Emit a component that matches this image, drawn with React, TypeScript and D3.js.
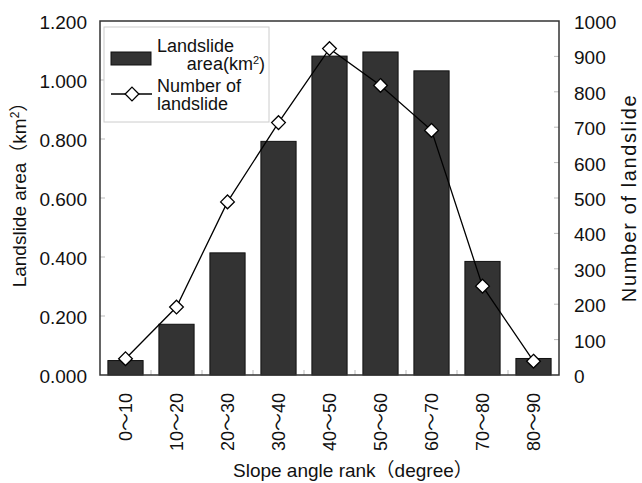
import { useEffect, useRef } from "react";
import * as d3 from "d3";

const categories = ["0～10", "10～20", "20～30", "30～40", "40～50", "50～60", "60～70", "70～80", "80～90"];
const areaValues = [0.049, 0.172, 0.414, 0.792, 1.081, 1.095, 1.031, 0.385, 0.056];
const countValues = [46, 192, 489, 713, 922, 818, 691, 251, 39];
const leftTicks = [0, 0.2, 0.4, 0.6, 0.8, 1.0, 1.2];
const rightTicks = [0, 100, 200, 300, 400, 500, 600, 700, 800, 900, 1000];

const WIDTH = 642;
const HEIGHT = 483;
const MARGIN = { top: 21, right: 83, bottom: 108, left: 100 };
const FONT = "'Liberation Sans', Arial, 'Noto Sans CJK JP', sans-serif";
const CJK = "'Noto Sans CJK JP', sans-serif";

export default function App() {
  const ref = useRef<SVGSVGElement>(null);

  useEffect(() => {
    const svg = d3.select(ref.current);
    svg.selectAll("*").remove();

    const boundsWidth = WIDTH - MARGIN.left - MARGIN.right;
    const boundsHeight = HEIGHT - MARGIN.top - MARGIN.bottom;

    const x = d3.scaleBand().domain(categories).range([0, boundsWidth]).paddingInner(0.31).paddingOuter(0.155);
    const yLeft = d3.scaleLinear().domain([0, 1.2]).range([boundsHeight, 0]);
    const yRight = d3.scaleLinear().domain([0, 1000]).range([boundsHeight, 0]);
    const step = boundsWidth / categories.length;

    svg.append("rect").attr("width", WIDTH).attr("height", HEIGHT).attr("fill", "#fff");

    const g = svg.append("g").attr("transform", `translate(${MARGIN.left},${MARGIN.top})`);

    // inner tick marks
    g.selectAll(".lt")
      .data(leftTicks.slice(1, -1))
      .join("line")
      .attr("x1", 0)
      .attr("x2", 5)
      .attr("y1", (d) => yLeft(d))
      .attr("y2", (d) => yLeft(d))
      .attr("stroke", "#bbb");
    g.selectAll(".rt")
      .data(rightTicks.slice(1, -1))
      .join("line")
      .attr("x1", boundsWidth - 5)
      .attr("x2", boundsWidth)
      .attr("y1", (d) => yRight(d))
      .attr("y2", (d) => yRight(d))
      .attr("stroke", "#bbb");
    g.selectAll(".xt")
      .data(d3.range(1, categories.length))
      .join("line")
      .attr("x1", (d) => d * step)
      .attr("x2", (d) => d * step)
      .attr("y1", boundsHeight)
      .attr("y2", boundsHeight - 5)
      .attr("stroke", "#bbb");

    // bars
    g.selectAll(".bar")
      .data(areaValues)
      .join("rect")
      .attr("x", (_, i) => x(categories[i])!)
      .attr("width", x.bandwidth())
      .attr("y", (d) => yLeft(d))
      .attr("height", (d) => boundsHeight - yLeft(d))
      .attr("fill", "#333")
      .attr("stroke", "#111")
      .attr("stroke-width", 1);

    // frame
    g.append("rect")
      .attr("width", boundsWidth)
      .attr("height", boundsHeight)
      .attr("fill", "none")
      .attr("stroke", "#333")
      .attr("stroke-width", 1.5);

    // line series
    const cx = (i: number) => x(categories[i])! + x.bandwidth() / 2;
    const line = d3
      .line<number>()
      .x((_, i) => cx(i))
      .y((d) => yRight(d));
    g.append("path")
      .datum(countValues)
      .attr("d", line)
      .attr("fill", "none")
      .attr("stroke", "#000")
      .attr("stroke-width", 1.3);

    const diamond = d3.symbol().type(d3.symbolDiamond2).size(120);
    g.selectAll(".pt")
      .data(countValues)
      .join("path")
      .attr("d", diamond)
      .attr("transform", (d, i) => `translate(${cx(i)},${yRight(d)})`)
      .attr("fill", "#fff")
      .attr("stroke", "#000")
      .attr("stroke-width", 1.3);

    // tick labels
    g.selectAll(".ll")
      .data(leftTicks)
      .join("text")
      .attr("x", -13)
      .attr("y", (d) => yLeft(d))
      .attr("dy", "0.42em")
      .attr("text-anchor", "end")
      .attr("font-family", FONT)
      .attr("font-size", 19)
      .attr("fill", "#111")
      .text((d) => d3.format(".3f")(d));
    g.selectAll(".rl")
      .data(rightTicks)
      .join("text")
      .attr("x", boundsWidth + 15)
      .attr("y", (d) => yRight(d))
      .attr("dy", "0.42em")
      .attr("font-family", FONT)
      .attr("font-size", 19)
      .attr("fill", "#111")
      .text((d) => d);

    const xl = g
      .selectAll(".xl")
      .data(categories)
      .join("text")
      .attr("transform", (d) => `translate(${x(d)! + x.bandwidth() / 2 + 6},${boundsHeight + 18}) rotate(-90)`)
      .attr("text-anchor", "end")
      .attr("font-family", FONT)
      .attr("font-size", 18)
      .attr("fill", "#111");
    xl.each(function (d) {
      const [a, b] = d.split("～");
      const t = d3.select(this);
      t.append("tspan").text(a);
      t.append("tspan").attr("font-family", CJK).text("～");
      t.append("tspan").text(b);
    });

    // axis titles
    svg
      .append("text")
      .attr("x", 233)
      .attr("y", 477)
      .attr("font-family", FONT)
      .attr("font-size", 19)
      .attr("fill", "#111")
      .text("Slope angle rank（degree）");

    const leftTitle = svg
      .append("text")
      .attr("transform", "translate(26,190) rotate(-90)")
      .attr("text-anchor", "middle")
      .attr("font-family", FONT)
      .attr("font-size", 19)
      .attr("fill", "#111");
    leftTitle.append("tspan").text("Landslide area（km");
    leftTitle.append("tspan").attr("dy", -7).attr("font-size", 12).text("2");
    leftTitle.append("tspan").attr("dy", 7).text("）");

    svg
      .append("text")
      .attr("transform", "translate(636,198) rotate(-90)")
      .attr("text-anchor", "middle")
      .attr("font-family", FONT)
      .attr("font-size", 20)
      .attr("letter-spacing", 1.6)
      .attr("fill", "#111")
      .text("Number of landslide");

    // legend
    const lg = svg.append("g");
    lg.append("rect")
      .attr("x", 104)
      .attr("y", 27)
      .attr("width", 165)
      .attr("height", 95)
      .attr("fill", "#fff")
      .attr("stroke", "#ccc");
    lg.append("rect")
      .attr("x", 111)
      .attr("y", 52)
      .attr("width", 40)
      .attr("height", 13)
      .attr("fill", "#333")
      .attr("stroke", "#111");
    lg.append("line")
      .attr("x1", 111)
      .attr("x2", 152)
      .attr("y1", 94)
      .attr("y2", 94)
      .attr("stroke", "#000")
      .attr("stroke-width", 1.3);
    lg.append("path")
      .attr("d", diamond)
      .attr("transform", "translate(132,94)")
      .attr("fill", "#fff")
      .attr("stroke", "#000")
      .attr("stroke-width", 1.3);
    const legendText = (tx: number, ty: number, s: string, anchor = "start") =>
      lg
        .append("text")
        .attr("x", tx)
        .attr("y", ty)
        .attr("text-anchor", anchor)
        .attr("font-family", FONT)
        .attr("font-size", 18)
        .attr("fill", "#111")
        .text(s);
    legendText(157, 52, "Landslide");
    const area = legendText(265, 70, "area(km", "end");
    area.append("tspan").attr("dy", -6).attr("font-size", 11).text("2");
    area.append("tspan").attr("dy", 6).text(")");
    legendText(157, 92, "Number of");
    legendText(157, 110, "landslide");
  }, []);

  return (
    <svg
      ref={ref}
      width={WIDTH}
      height={HEIGHT}
      style={{ position: "absolute", left: 0, top: 0 }}
    />
  );
}
